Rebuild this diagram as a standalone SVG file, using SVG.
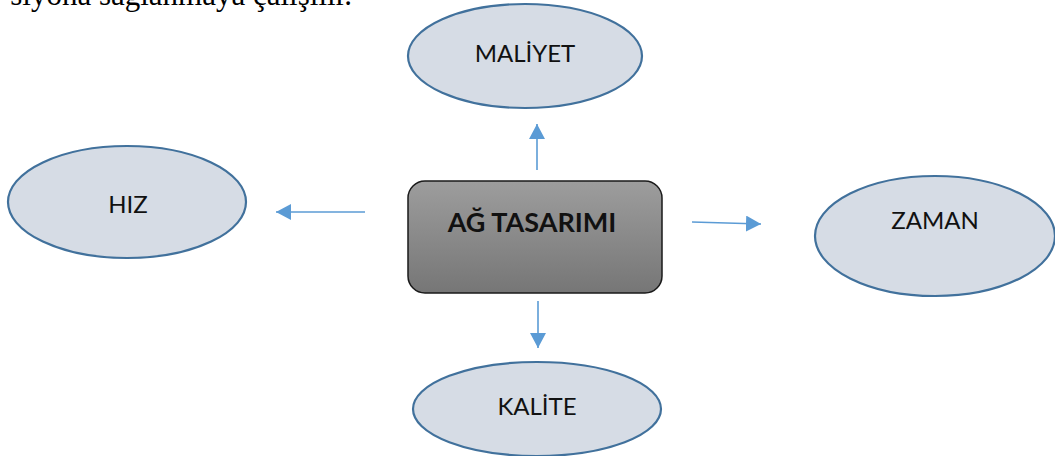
<svg xmlns="http://www.w3.org/2000/svg" width="1055" height="456" viewBox="0 0 1055 456">
  <defs>
    <linearGradient id="boxFill" x1="0" y1="0" x2="0" y2="1">
      <stop offset="0" stop-color="#9d9d9d"/>
      <stop offset="1" stop-color="#767676"/>
    </linearGradient>
    <marker id="head" markerUnits="userSpaceOnUse" markerWidth="16" markerHeight="16" refX="15" refY="8" orient="auto">
      <path d="M0,0 L15,8 L0,16 z" fill="#5b9bd5"/>
    </marker>
  </defs>
  <style>
    .oval { fill: #d6dce5; stroke: #41719c; stroke-width: 2.2; }
    .box { fill: url(#boxFill); stroke: #1a1a1a; stroke-width: 1.5; }
    .lbl { font-family: Lato, "Open Sans", "Liberation Sans", sans-serif; font-size: 24px; fill: #111; text-anchor: middle; }
    .title { font-family: Lato, "Open Sans", "Liberation Sans", sans-serif; font-size: 27px; font-weight: bold; fill: #111; text-anchor: middle; }
    .body { font-family: "Liberation Serif", "Times New Roman", serif; font-size: 31px; fill: #000; }
    .link { stroke: #5b9bd5; stroke-width: 1.6; fill: none; marker-end: url(#head); }
  </style>

  <rect width="1055" height="456" fill="#ffffff"/>

  <!-- paragraph line running above the figure -->
  <text class="body" x="352" y="5" text-anchor="end">siyona sağlanmaya çalışılır.</text>

  <g id="connectors">
    <line class="link" x1="537" y1="170" x2="537" y2="124"/>
    <line class="link" x1="538" y1="301" x2="538" y2="348"/>
    <line class="link" x1="365" y1="212" x2="276" y2="212"/>
    <line class="link" x1="692" y1="222" x2="761" y2="224"/>
  </g>

  <g id="ag-tasarimi">
    <rect class="box" x="408" y="181" width="254" height="112" rx="17" ry="17"/>
    <text class="title" x="532" y="232">AĞ TASARIMI</text>
  </g>

  <g id="maliyet">
    <ellipse class="oval" cx="525" cy="56" rx="117" ry="52"/>
    <text class="lbl" x="525" y="62">MALİYET</text>
  </g>

  <g id="hiz">
    <ellipse class="oval" cx="127" cy="202" rx="119" ry="56"/>
    <text class="lbl" x="128" y="213">HIZ</text>
  </g>

  <g id="zaman">
    <ellipse class="oval" cx="935" cy="236" rx="120" ry="60"/>
    <text class="lbl" x="935" y="229">ZAMAN</text>
  </g>

  <g id="kalite">
    <ellipse class="oval" cx="537" cy="409" rx="124" ry="47"/>
    <text class="lbl" x="537" y="415">KALİTE</text>
  </g>
</svg>
